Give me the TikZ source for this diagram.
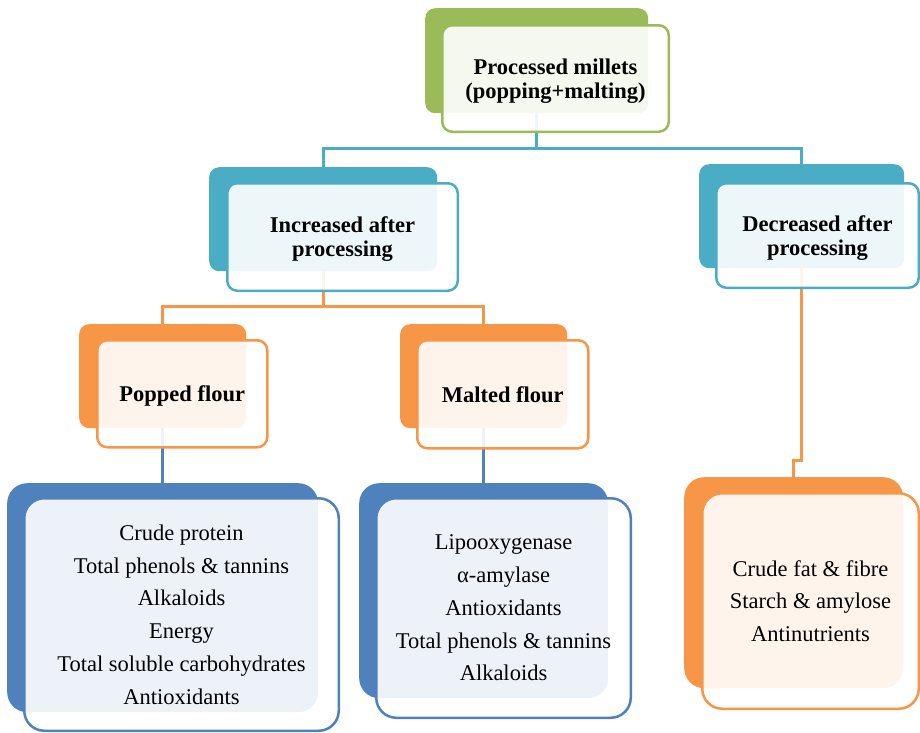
\documentclass[tikz,border=0pt]{standalone}
\usepackage{fontspec}
\setmainfont{Liberation Serif}
\usepackage{xcolor}
\usetikzlibrary{positioning}

\definecolor{leafgreen}{HTML}{9BBB59}
\definecolor{tealblue}{HTML}{4BACC6}
\definecolor{peach}{HTML}{F79646}
\definecolor{steel}{HTML}{4F81BD}

\begin{document}
\begin{tikzpicture}[
    x=1pt, y=-1pt,
    % solid coloured block lying behind each card
    bkblock/.style={fill=#1, rounded corners=10pt, anchor=north west, inner sep=0pt},
    % see-through white card with a coloured rim, shifted down-right
    card/.style={draw=#1, line width=2.5pt, fill=white, fill opacity=0.9, text opacity=1,
                 rounded corners=10pt, align=center, inner sep=0pt},
    bigcorner/.style={rounded corners=20pt},
    headtext/.style={font=\bfseries\fontsize{22.5}{24}\selectfont, text depth=0pt},
    itemtext/.style={font=\fontsize{22.5}{32.8}\selectfont},
    wire/.style={draw=#1, line width=3pt}
]
\useasboundingbox (0,0) rectangle (920,732);

% back blocks
\node[bkblock=leafgreen, minimum width=223, minimum height=105] (topbk) at (425,8) {};
\node[bkblock=tealblue, minimum width=228, minimum height=104] (incbk) at (209,167) {};
\node[bkblock=tealblue, minimum width=205, minimum height=104] (decbk) at (699,164) {};
\node[bkblock=peach, minimum width=167, minimum height=104] (popbk) at (79,324) {};
\node[bkblock=peach, minimum width=167, minimum height=104] (maltbk) at (400,324) {};
\node[bkblock=steel, bigcorner, minimum width=311, minimum height=229] (popitbk) at (7,483) {};
\node[bkblock=steel, bigcorner, minimum width=249, minimum height=215] (maltitbk) at (359,483) {};
\node[bkblock=peach, bigcorner, minimum width=219, minimum height=211] (decitbk) at (684,477) {};

% connectors (behind the cards)
\draw[wire=tealblue] (topbk.south) -- ++(0,35) -| (incbk.north);
\draw[wire=tealblue] (topbk.south) -- ++(0,35) -| (decbk.north);
\draw[wire=peach] (incbk.south) -- ++(0,35) -| (popbk.north);
\draw[wire=peach] (incbk.south) -- ++(0,35) -| (maltbk.north);
\draw[wire=steel] (popbk.south) -- (popitbk.north);
\draw[wire=steel] (maltbk.south) -- (maltitbk.north);
\draw[wire=peach] (decbk.south) -- ++(0,192) -| (decitbk.north);

% cards
\node[card=leafgreen, headtext, minimum width=226.5, minimum height=106.5,
      below right=16pt and 16pt of topbk.north west] (top) {Processed millets\\(popping+malting)};
\node[card=tealblue, headtext, minimum width=230.5, minimum height=107.5,
      below right=15pt and 17pt of incbk.north west] (inc) {Increased after\\processing};
\node[card=tealblue, headtext, minimum width=202.5, minimum height=104.5,
      below right=18pt and 16pt of decbk.north west] (dec) {Decreased after\\processing};
\node[card=peach, headtext, minimum width=170, minimum height=107,
      below right=15pt and 17pt of popbk.north west] (pop) {Popped flour};
\node[card=peach, headtext, minimum width=171, minimum height=108,
      below right=15pt and 16pt of maltbk.north west] (malt) {Malted flour};
\node[card=steel, bigcorner, itemtext, minimum width=314.5, minimum height=232.5,
      below right=14pt and 16pt of popitbk.north west] (popit)
      {Crude protein\\Total phenols \& tannins\\Alkaloids\\Energy\\Total soluble carbohydrates\\Antioxidants};
\node[card=steel, bigcorner, itemtext, minimum width=254.5, minimum height=219.5,
      below right=14pt and 16pt of maltitbk.north west] (maltit)
      {Lipooxygenase\\α-amylase\\Antioxidants\\Total phenols \& tannins\\Alkaloids};
\node[card=peach, bigcorner, itemtext, minimum width=216.5, minimum height=215.5,
      below right=15pt and 17pt of decitbk.north west] (decit)
      {Crude fat \& fibre\\Starch \& amylose\\Antinutrients};

\end{tikzpicture}
\end{document}
